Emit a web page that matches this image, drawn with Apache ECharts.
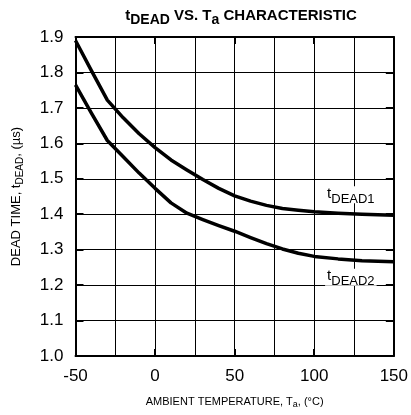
<!DOCTYPE html>
<html><head><meta charset="utf-8">
<script src="https://cdn.jsdelivr.net/npm/echarts@6/dist/echarts.min.js"></script>
<style>html,body{margin:0;padding:0;background:#fff}#c{width:411px;height:415px}</style>
</head><body><div id="c"></div>
<script>
const dead1 = [[-50,1.89],[-40,1.805],[-30,1.722],[-20,1.672],[-10,1.627],[0,1.588],[10,1.553],[20,1.525],[30,1.498],[40,1.473],[50,1.452],[60,1.437],[70,1.425],[80,1.416],[90,1.411],[100,1.407],[115,1.403],[130,1.400],[150,1.397]];
const dead2 = [[-50,1.765],[-40,1.685],[-30,1.608],[-20,1.562],[-10,1.516],[0,1.473],[10,1.432],[20,1.403],[30,1.385],[40,1.368],[50,1.352],[60,1.334],[70,1.317],[80,1.302],[90,1.29],[100,1.281],[115,1.274],[130,1.269],[150,1.266]];
const xTicks = [-50, 0, 50, 100, 150];
const yTicks = ['1.0','1.1','1.2','1.3','1.4','1.5','1.6','1.7','1.8','1.9'];
const FONT = 'Liberation Sans, Arial, sans-serif';
const chart = echarts.init(document.getElementById('c'));
const curveLabel = (sub) => ({
  show: true, formatter: '{t|t}{s|' + sub + '}', backgroundColor: '#fff', padding: [0, 2, 0, 2],
  rich: { t: { fontFamily: FONT, fontSize: 15, color: '#000', verticalAlign: 'top', lineHeight: 17 },
          s: { fontFamily: FONT, fontSize: 13, color: '#000', padding: [9, 0, 0, 0], lineHeight: 17 } }
});
const tick = { show: true, inside: true, lineStyle: { color: '#000', width: 2 } };
chart.setOption({
  animation: false,
  title: {
    text: '{b|t}{bs|DEAD}{b| VS. T}{bs|a}{b| CHARACTERISTIC}',
    left: 236, textAlign: 'center', top: 3,
    textStyle: { rich: {
      b: { fontFamily: FONT, fontSize: 15, fontWeight: 'bold', color: '#000', lineHeight: 16 },
      bs: { fontFamily: FONT, fontSize: 14, fontWeight: 'bold', color: '#000', padding: [9, 0, 0, 0], lineHeight: 16 } } }
  },
  grid: { left: 74, right: 17, top: 37, bottom: 59 },
  xAxis: [{
    type: 'value', min: -50, max: 150, interval: 50,
    axisLine: { show: true, onZero: false, lineStyle: { color: '#000', width: 2 } },
    axisTick: Object.assign({ length: 7 }, tick),
    minorTick: { show: false, splitNumber: 2 },
    splitLine: { show: true, lineStyle: { color: '#000', width: 1 } },
    minorSplitLine: { show: true, lineStyle: { color: '#000', width: 1 } },
    axisLabel: { fontFamily: FONT, fontSize: 17, color: '#000', margin: 12,
      formatter: v => xTicks.includes(v) ? String(v) : '' },
    name: '{n|AMBIENT TEMPERATURE, T}{s|a}{n|, (°C)}', nameLocation: 'middle', nameGap: 40,
    nameTextStyle: { rich: {
      n: { fontFamily: FONT, fontSize: 11, color: '#000', lineHeight: 12 },
      s: { fontFamily: FONT, fontSize: 9, color: '#000', padding: [6, 0, 0, 0], lineHeight: 12 } } }
  }, {
    type: 'value', min: -50, max: 150, interval: 50, position: 'top',
    axisLine: { show: true, onZero: false, lineStyle: { color: '#000', width: 2 } },
    axisTick: Object.assign({ length: 7 }, tick),
    axisLabel: { show: false }, splitLine: { show: false }
  }],
  yAxis: [{
    type: 'value', min: 1.0, max: 1.9, interval: 0.1,
    axisLine: { show: true, onZero: false, lineStyle: { color: '#000', width: 2 } },
    axisTick: Object.assign({ length: 8 }, tick),
    splitLine: { show: true, lineStyle: { color: '#000', width: 1 } },
    axisLabel: { fontFamily: FONT, fontSize: 17, color: '#000', margin: 12,
      formatter: v => yTicks[Math.round((v - 1.0) * 10)] },
    name: '{n|DEAD TIME, t}{s|DEAD}{n|, (µs)}', nameLocation: 'middle', nameGap: 52,
    nameTextStyle: { rich: {
      n: { fontFamily: FONT, fontSize: 13, color: '#000', lineHeight: 14 },
      s: { fontFamily: FONT, fontSize: 10, color: '#000', padding: [7, 0, 0, 0], lineHeight: 14 } } }
  }, {
    type: 'value', min: 1.0, max: 1.9, interval: 0.1, position: 'right',
    axisLine: { show: true, onZero: false, lineStyle: { color: '#000', width: 2 } },
    axisTick: Object.assign({ length: 8 }, tick),
    axisLabel: { show: false }, splitLine: { show: false }
  }],
  series: [{
    type: 'line', data: dead1, smooth: false, symbol: 'none', xAxisIndex: 0, yAxisIndex: 0,
    lineStyle: { color: '#000', width: 3.5, join: 'round' }, z: 5,
    markPoint: { symbol: 'rect', symbolSize: 0, data: [{ coord: [123, 1.455], label: curveLabel('DEAD1') }] }
  }, {
    type: 'line', data: dead2, smooth: false, symbol: 'none', xAxisIndex: 0, yAxisIndex: 0,
    lineStyle: { color: '#000', width: 3.5, join: 'round' }, z: 5,
    markPoint: { symbol: 'rect', symbolSize: 0, data: [{ coord: [123, 1.222], label: curveLabel('DEAD2') }] }
  }]
});
</script></body></html>
